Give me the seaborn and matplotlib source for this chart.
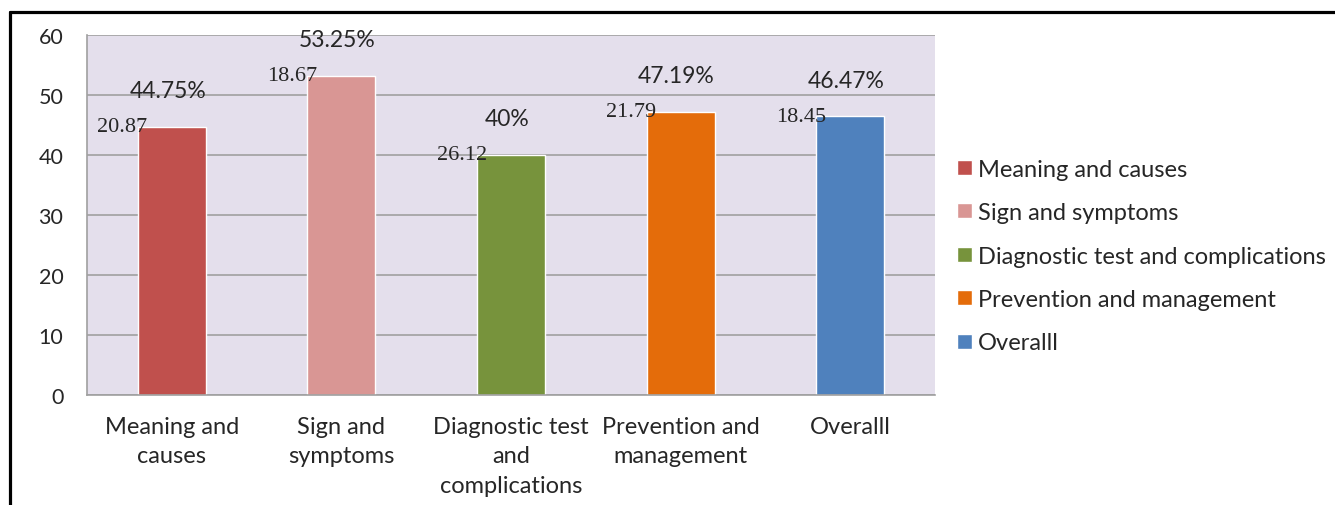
import numpy as np
import matplotlib.pyplot as plt
import seaborn as sns
import pandas as pd
from matplotlib.lines import Line2D

# Chart data
categories = ['Meaning and causes', 'Sign and symptoms',
              'Diagnostic test and complications', 'Prevention and management', 'Overalll']
tick_labels = ['Meaning and\ncauses', 'Sign and\nsymptoms', 'Diagnostic test\nand\ncomplications',
               'Prevention and\nmanagement', 'Overalll']
percent = [44.75, 53.25, 40, 47.19, 46.47]
mean_score = [20.87, 18.67, 26.12, 21.79, 18.45]
colors = ['#C0504D', '#D99694', '#77933C', '#E46C0A', '#4F81BD']

df = pd.DataFrame({'Area': categories, 'Percent': percent, 'Score': mean_score})

sns.set_style('white')
plt.rcParams['font.family'] = ['Lato', 'DejaVu Sans']
grey = '#A0A0A0'
fs = 17

fig = plt.figure(figsize=(13.35, 5.06), dpi=100)
ax = fig.add_axes([87 / 1335, 1 - 396 / 506, 848 / 1335, 360 / 506])
ax.set_facecolor('#E4DFEC')

sns.barplot(data=df, x='Area', y='Percent', hue='Area', palette=colors,
            width=0.4, dodge=False, saturation=1, legend=True, ax=ax)

# axes styling
ax.set_xlim(-0.5, 4.5)
ax.set_ylim(0, 60)
ax.set_yticks(range(0, 61, 10))
ax.set_xticks(np.arange(-0.5, 5, 1))
ax.set_xticklabels([])
ax.set_xticks(range(5), minor=True)
ax.set_xticklabels(tick_labels, minor=True, fontsize=fs)
for lab in ax.get_xticklabels(minor=True):
    lab.set_linespacing(1.5)
ax.tick_params(axis='x', which='major', length=5, direction='out', color=grey, width=1)
ax.tick_params(axis='x', which='minor', length=0, pad=15)
ax.tick_params(axis='y', length=6, direction='out', color=grey, width=1, pad=11, labelsize=15.5)
ax.set_xlabel('')
ax.set_ylabel('')
ax.yaxis.grid(True, color=grey, lw=1.2)
ax.set_axisbelow(True)
for side in ['top', 'right']:
    ax.spines[side].set_visible(False)
for side in ['left', 'bottom']:
    ax.spines[side].set_color(grey)
    ax.spines[side].set_linewidth(1.2)

# value labels
for cont, p, s in zip(ax.containers, percent, mean_score):
    bar = cont[0]
    x0 = bar.get_x()
    xc = x0 + bar.get_width() / 2
    top = bar.get_height()
    ax.annotate(f'{p:g}%', xy=(xc, top), xytext=(-3, 26), textcoords='offset points',
                ha='center', va='center', fontsize=16.5)
    ax.annotate(f'{s:.2f}', xy=(x0, top), xytext=(7, 0), textcoords='offset points',
                ha='right', va='center', fontsize=16, family='Liberation Serif')

sns.move_legend(ax, 'center left', bbox_to_anchor=(1.026, 0.386), frameon=False, title=None,
                fontsize=fs, handlelength=0.65, handleheight=0.6, handletextpad=0.25,
                labelspacing=0.95, borderpad=0, borderaxespad=0)

# outer frame (top and left edges)
ytop = 1 - 12.5 / 506
xl = 10 / 1335
fig.add_artist(Line2D([xl, 1], [ytop, ytop], color='black', lw=2.3, transform=fig.transFigure))
fig.add_artist(Line2D([xl, xl], [0, ytop], color='black', lw=2.3, transform=fig.transFigure))

fig.savefig('out.png', dpi=100)
